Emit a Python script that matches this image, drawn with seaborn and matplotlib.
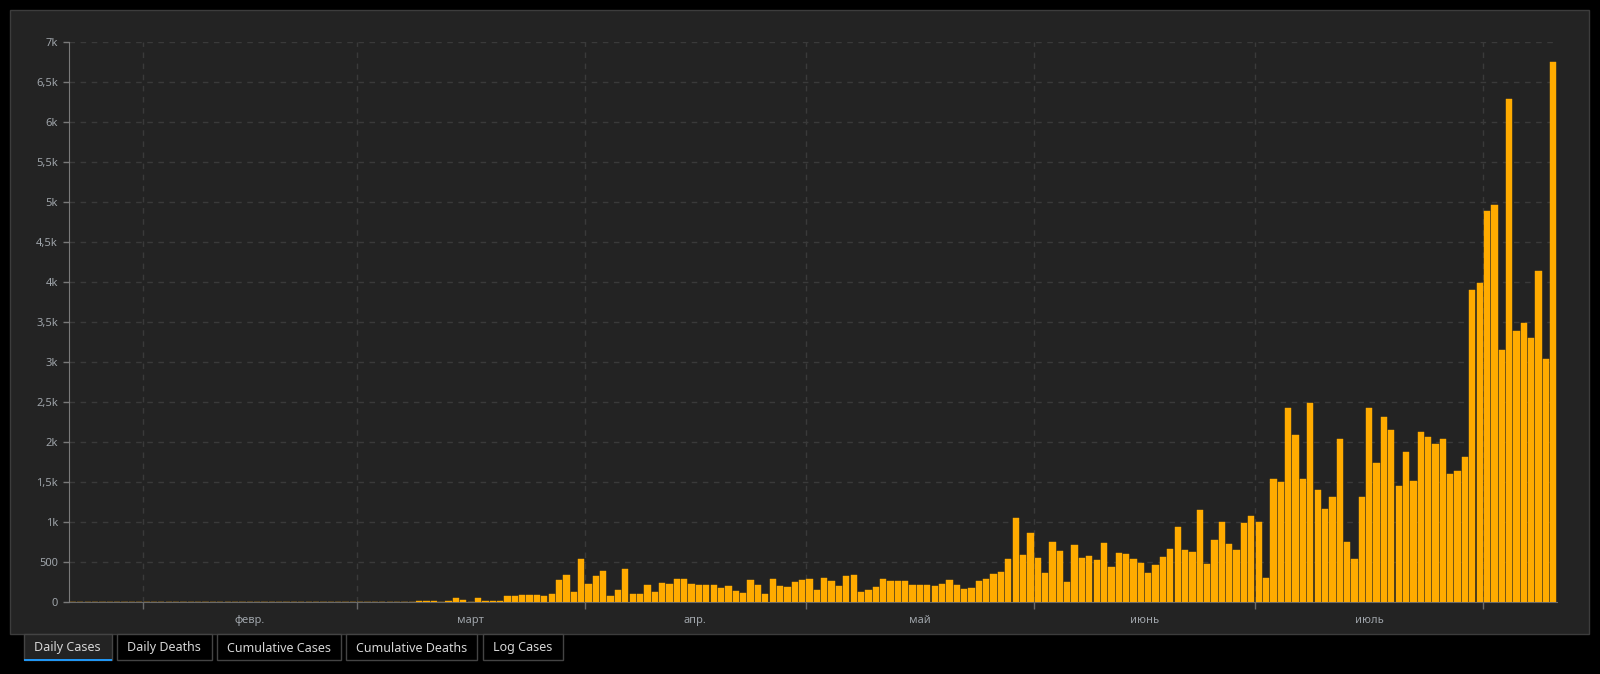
"""
Daily cases bar chart (dark dashboard style).
"""

import calendar
from datetime import date, timedelta

import matplotlib.pyplot as plt
import pandas as pd
import seaborn as sns
from matplotlib.patches import Rectangle

# daily new cases, Jan 22 .. Aug 10 2020
jan = [0, 0, 0, 0, 0, 0, 0, 0, 1, 0]
feb = [0, 1, 0, 0, 1, 0, 0, 0, 0, 0, 0, 0, 0, 0, 0,
       0, 0, 0, 0, 0, 0, 0, 0, 0, 0, 0, 0, 0, 0]
mar = [0, 0, 0, 0, 0, 2, 1, 3, 17, 17, 17, 4, 17, 54, 29, 4,
       54, 17, 17, 17, 79, 79, 92, 92, 92, 79, 104, 279, 342, 129, 542]
apr = [229, 329, 392, 79, 154, 417, 104, 104, 217, 129, 242, 229, 292, 292, 229,
       217, 217, 217, 179, 204, 142, 117, 279, 217, 104, 292, 204, 192, 254, 279]
may = [292, 154, 304, 267, 204, 329, 342, 129, 154, 192, 292, 267, 267, 267, 217, 217,
       217, 204, 229, 279, 217, 167, 179, 267, 292, 354, 379, 542, 1054, 592, 867]
jun = [554, 367, 754, 642, 254, 717, 554, 579, 529, 742, 442, 617, 604, 542, 492,
       367, 467, 567, 667, 942, 654, 629, 1154, 479, 779, 1004, 729, 654, 992, 1079]
jul = [1004, 304, 1542, 1504, 2429, 2092, 1542, 2492, 1404, 1167, 1317, 2042, 754, 542, 1317, 2429,
       1742, 2317, 2154, 1454, 1879, 1517, 2129, 2067, 1979, 2042, 1604, 1642, 1817, 3904, 3991]
aug = [4891, 4966, 3154, 6279, 3391, 3491, 3304, 4141, 3041, 6741]

start_day = date(2020, 1, 22)
month_labels = {2: "февр.", 3: "март", 4: "апр.", 5: "май", 6: "июнь", 7: "июль"}
y_ticks = list(range(0, 7001, 500))
tab_names = ["Daily Cases", "Daily Deaths", "Cumulative Cases", "Cumulative Deaths", "Log Cases"]

BAR = "#ffab00"
PANEL = "#232323"
GRID = "#3a3a3a"
TEXT = "#9ea3a9"


def fmt_k(v):
    if v < 1000:
        return str(v)
    return f"{v / 1000:g}".replace(".", ",") + "k"


cases = jan + feb + mar + apr + may + jun + jul + aug
days = [start_day + timedelta(days=i) for i in range(len(cases))]
df = pd.DataFrame({"day": [d.isoformat() for d in days], "cases": cases})

plt.rcParams["font.family"] = ["Noto Sans", "DejaVu Sans"]

W, H = 1600, 674
fig = plt.figure(figsize=(W / 100, H / 100), dpi=100, facecolor="black")

# dashboard panel, behind the axes
fig.patches.append(Rectangle((10 / W, 1 - 634 / H), 1579 / W, 624 / H,
                             transform=fig.transFigure, facecolor=PANEL,
                             edgecolor="#3c3c3c", lw=1, zorder=-1))

ax = fig.add_axes([69.3 / W, 1 - 602.3 / H, (1557 - 69.3) / W, (602.3 - 41.7) / H])
ax.set_facecolor("none")

# zero-height bars keep their outline, which gives the orange dashes on the baseline
sns.barplot(data=df, x="day", y="cases", color=BAR, saturation=1, width=0.85,
            edgecolor=BAR, linewidth=0.3, errorbar=None, ax=ax, zorder=3)

# month boundaries (major ticks / grid) and mid-month labels (minor ticks)
bounds, mids, labels = [], [], []
for i, d in enumerate(days):
    if d.day == 1:
        bounds.append(i - 0.5)
        if d.month in month_labels:
            n = calendar.monthrange(d.year, d.month)[1]
            mids.append(i - 0.5 + n / 2)
            labels.append(month_labels[d.month])

ax.set_xlim(-0.5, len(cases) - 0.5)
ax.set_ylim(0, 7000)
ax.set_xticks(bounds)
ax.set_xticklabels([""] * len(bounds))
ax.set_xticks(mids, minor=True)
ax.set_xticklabels(labels, minor=True)
ax.set_yticks(y_ticks)
ax.set_yticklabels([fmt_k(v) for v in y_ticks])

ax.tick_params(axis="x", which="major", length=5, width=1, color="#6a6a6a")
ax.tick_params(axis="x", which="minor", length=0, pad=9, labelsize=8, labelcolor=TEXT)
ax.tick_params(axis="y", length=4.3, width=1, color="#7a7a7a", pad=4,
               labelsize=8, labelcolor=TEXT)

ax.set_axisbelow(True)
ax.xaxis.grid(True, which="major", color=GRID, lw=1, ls=(0, (4, 4)))
ax.yaxis.grid(True, color=GRID, lw=1, ls=(0, (4, 4)))

for side in ["top", "right"]:
    ax.spines[side].set_visible(False)
ax.spines["left"].set_color("#7a7a7a")
ax.spines["bottom"].set_color("#6a6a6a")
ax.spines["bottom"].set_zorder(2)
ax.set_xlabel("")
ax.set_ylabel("")

# tab buttons under the panel
tab_edges = [(23.7, 111.7), (117, 211.6), (217, 340.6), (346, 476.5), (482.6, 563.3)]
for k, (name, (x0, x1)) in enumerate(zip(tab_names, tab_edges)):
    active = k == 0
    fig.patches.append(Rectangle((x0 / W, 1 - 660 / H), (x1 - x0) / W, 26 / H,
                                 transform=fig.transFigure,
                                 facecolor=PANEL if active else "black",
                                 edgecolor="#444444", lw=1, zorder=1))
    if active:
        fig.patches.append(Rectangle((x0 / W, 1 - 661 / H), (x1 - x0) / W, 2 / H,
                                     transform=fig.transFigure, facecolor="#2196f3",
                                     edgecolor="none", zorder=2))
    fig.text((x0 + x1) / 2 / W, 1 - 648 / H, name, ha="center", va="center",
             fontsize=9, color="#d6d6d6")

fig.savefig("out.png", dpi=100, facecolor=fig.get_facecolor())
